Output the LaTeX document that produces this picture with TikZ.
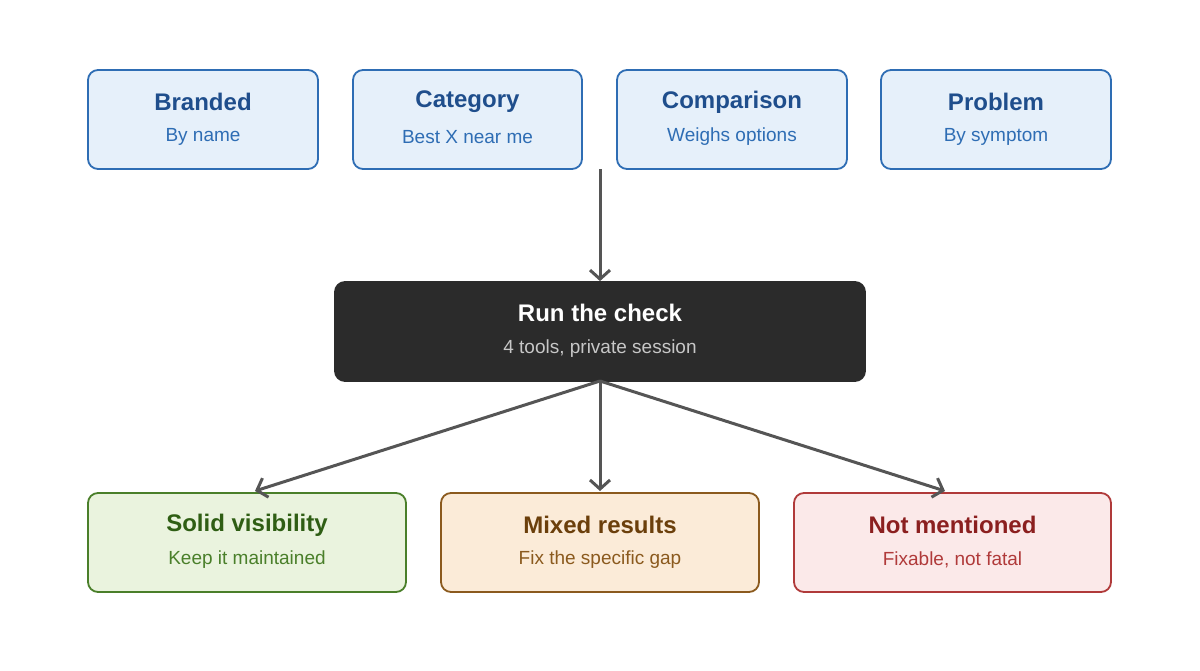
\documentclass[tikz,border=0pt]{standalone}
\usepackage{fontspec}
\setmainfont{Liberation Sans}
\usetikzlibrary{arrows.meta}
\definecolor{bfill}{HTML}{E6F0FA}\definecolor{bdraw}{HTML}{2E6DB4}\definecolor{btit}{HTML}{1F4E8C}
\definecolor{gfill}{HTML}{EAF3DE}\definecolor{gdraw}{HTML}{4A7F2A}\definecolor{gtit}{HTML}{2F5E14}
\definecolor{ofill}{HTML}{FBEBD8}\definecolor{odraw}{HTML}{8B5A1E}\definecolor{otit}{HTML}{6B3F0B}
\definecolor{rfill}{HTML}{FBE9E9}\definecolor{rdraw}{HTML}{B03A3A}\definecolor{rtit}{HTML}{8B1F1F}
\definecolor{dark}{HTML}{2B2B2B}\definecolor{arr}{HTML}{555555}
\tikzset{
 box/.style={rounded corners=10pt, line width=1.8pt, minimum height=99pt, inner sep=0pt},
 tit/.style={font=\fontsize{24}{28}\selectfont\bfseries},
 sub/.style={font=\fontsize{19}{23}\selectfont},
 con/.style={draw=arr, line width=3pt, -{Straight Barb[length=9pt,width=20pt,line width=3pt]}}
}
\begin{document}
\begin{tikzpicture}[x=1pt,y=-1pt]
\useasboundingbox (0,0) rectangle (1200,670);
\foreach \x/\w/\t/\s/\n in {203/230/Branded/By name/a, 467.5/229/Category/Best X near me/b, 732/230/Comparison/Weighs options/c, 996/230/Problem/By symptom/d}{
 \node[box, fill=bfill, draw=bdraw, minimum width=\w pt] (\n) at (\x,119.5) {};
 \node[tit, text=btit] at (\x,102) {\t};
 \node[sub, text=bdraw] at (\x,137) {\s};
}
\node[box, fill=dark, draw=dark, minimum width=530pt] (run) at (600,331.5) {};
\node[tit, text=white] at (600,313) {Run the check};
\node[sub, text=black!22] at (600,349) {4 tools, private session};
\node[box, fill=gfill, draw=gdraw, minimum width=318pt] (g) at (247,542.5) {};
\node[tit, text=gtit] at (247,525) {Solid visibility};
\node[sub, text=gdraw] at (247,560) {Keep it maintained};
\node[box, fill=ofill, draw=odraw, minimum width=318pt] (o) at (600,542.5) {};
\node[tit, text=otit] at (600,525) {Mixed results};
\node[sub, text=odraw] at (600,560) {Fix the specific gap};
\node[box, fill=rfill, draw=rdraw, minimum width=317pt] (r) at (952.5,542.5) {};
\node[tit, text=rtit] at (952.5,525) {Not mentioned};
\node[sub, text=rdraw] at (952.5,560) {Fixable, not fatal};
\coordinate (top) at (600,169);
\coordinate (src) at (600,381);
\coordinate (gt) at (255,491);
\coordinate (ot) at (600,491);
\coordinate (rt) at (945,491);
\draw[con] (top) -- (run.north);
\draw[con] (src) -- (gt);
\draw[con] (src) -- (ot);
\draw[con] (src) -- (rt);
\end{tikzpicture}
\end{document}
